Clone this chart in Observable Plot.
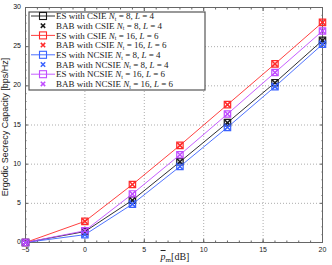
<!DOCTYPE html>
<html><head><meta charset="utf-8">
<script src="https://cdn.jsdelivr.net/npm/d3@7"></script>
<script src="https://cdn.jsdelivr.net/npm/@observablehq/plot@0.6"></script>
<style>body{margin:0;background:#fff}#c{position:relative;width:332px;height:265px}
.yl{position:absolute;width:16px;text-align:right;font:7px "Liberation Sans",Arial,sans-serif;color:#111;line-height:8px}</style>
</head><body><div id="c"></div>
<script>
const snr = [-5, 0, 4, 8, 12, 16, 20];
const esCsie8 = [0, 1.4, 5.4, 10.3, 15.3, 20.4, 25.8];
const babCsie8 = [0, 1.4, 5.4, 10.3, 15.3, 20.4, 25.8];
const esCsie16 = [0, 2.7, 7.4, 12.4, 17.6, 22.8, 28.1];
const babCsie16 = [0, 2.7, 7.4, 12.4, 17.6, 22.8, 28.1];
const esNcsie8 = [0, 1.0, 4.9, 9.7, 14.7, 19.9, 25.3];
const babNcsie8 = [0, 1.0, 4.9, 9.7, 14.7, 19.9, 25.3];
const esNcsie16 = [0, 1.5, 6.2, 11.2, 16.4, 21.7, 27.0];
const babNcsie16 = [0, 1.5, 6.2, 11.2, 16.4, 21.7, 27.0];
const xTicks = [-5, 0, 5, 10, 15, 20];
const yTicks = [0, 5, 10, 15, 20, 25, 30];

const series = [
  {name: "ES with CSIE", kind: "ES", sub: "t", n: 8, l: 4, color: "#1a1a1a", vals: esCsie8},
  {name: "BAB with CSIE", kind: "BAB", sub: "t", n: 8, l: 4, color: "#1a1a1a", vals: babCsie8},
  {name: "ES with CSIE", kind: "ES", sub: "t", n: 16, l: 6, color: "#ff2a2a", vals: esCsie16},
  {name: "BAB with CSIE", kind: "BAB", sub: "t", n: 16, l: 6, color: "#ff2a2a", vals: babCsie16},
  {name: "ES with NCSIE", kind: "ES", sub: "t", n: 8, l: 4, color: "#3a62ff", vals: esNcsie8},
  {name: "BAB with NCSIE", kind: "BAB", sub: "t", n: 8, l: 4, color: "#3a62ff", vals: babNcsie8},
  {name: "ES with NCSIE", kind: "ES", sub: "t", n: 16, l: 6, color: "#c04cff", vals: esNcsie16},
  {name: "BAB with NCSIE", kind: "BAB", sub: "t", n: 16, l: 6, color: "#c04cff", vals: babNcsie16}
];
const rows = [];
series.forEach((s, i) => s.vals.forEach((v, j) => rows.push({id: i, kind: s.kind, color: s.color, x: snr[j], y: v})));
const esRows = rows.filter(d => d.kind === "ES");
const babRows = rows.filter(d => d.kind === "BAB");
const minorX = d3.range(-5, 20.01, 1);
const minorY = d3.range(0, 30.01, 1);
const axisColor = "#666";

const plot = Plot.plot({
  width: 332, height: 265,
  marginLeft: 25, marginRight: 10, marginTop: 7, marginBottom: 23,
  style: {fontFamily: "Liberation Sans, Arial, sans-serif", fontSize: "7px", color: "#222", background: "#fff"},
  x: {domain: [-5, 20]},
  y: {domain: [0, 30]},
  marks: [
    Plot.gridX(xTicks, {stroke: "#999", strokeOpacity: 0.8, strokeDasharray: "1,2"}),
    Plot.gridY(yTicks, {stroke: "#999", strokeOpacity: 0.8, strokeDasharray: "1,2"}),
    Plot.axisX(minorX, {anchor: "bottom", tickSize: -1.5, text: null, stroke: axisColor, label: null}),
    Plot.axisX(minorX, {anchor: "top", tickSize: -1.5, text: null, stroke: axisColor, label: null}),
    Plot.axisY(minorY, {anchor: "left", tickSize: -1.5, text: null, stroke: axisColor, label: null}),
    Plot.axisY(minorY, {anchor: "right", tickSize: -1.5, text: null, stroke: axisColor, label: null}),
    Plot.axisX(xTicks, {anchor: "bottom", tickSize: -3, text: null, stroke: axisColor, label: null}),
    Plot.axisX(xTicks, {anchor: "top", tickSize: -3, text: null, stroke: axisColor, label: null}),
    Plot.axisY(yTicks, {anchor: "left", tickSize: -3, text: null, stroke: axisColor, label: null}),
    Plot.axisY(yTicks, {anchor: "right", tickSize: -3, text: null, stroke: axisColor, label: null}),
    Plot.axisX(xTicks, {anchor: "bottom", tickSize: 0, tickPadding: 5, label: null, fill: "#222"}),
    Plot.frame({stroke: axisColor, strokeWidth: 1}),
    Plot.line(esRows, {x: "x", y: "y", z: "id", stroke: "color", strokeWidth: 0.9}),
    Plot.dot(esRows, {x: "x", y: "y", symbol: "square", r: 3.6, stroke: "color", strokeWidth: 1.2, fill: "none"}),
    Plot.dot(babRows, {x: "x", y: "y", symbol: "times", r: 2.6, stroke: "color", strokeWidth: 1.5})
  ]
});
const host = document.getElementById("c");
host.appendChild(plot);

// y tick labels placed with Plot's own y scale (HTML overlay)
const yScale = plot.scale("y");
yTicks.forEach(v => {
  const d = document.createElement("div");
  d.className = "yl";
  d.textContent = String(v);
  d.style.left = "5px";
  d.style.top = (yScale.apply(v) - 4) + "px";
  host.appendChild(d);
});

const svg = d3.select(plot);
// y axis title
svg.append("text")
  .attr("transform", "translate(8,127) rotate(-90)")
  .attr("text-anchor", "middle")
  .style("font-family", "Liberation Sans, Arial, sans-serif")
  .style("font-size", "9px").attr("fill", "#222")
  .text("Ergodic Secrecy Capacity [bps/Hz]");
// x axis title
const xt = svg.append("text")
  .attr("x", 175).attr("y", 260)
  .attr("text-anchor", "middle")
  .style("font-family", "Liberation Serif, Times New Roman, serif")
  .style("font-size", "10px").attr("fill", "#222");
xt.append("tspan").attr("font-style", "italic").attr("text-decoration", "overline").text("p");
xt.append("tspan").attr("font-size", "7px").attr("dy", 2).text("m");
xt.append("tspan").attr("dy", -2).text("[dB]");

// legend
const lg = svg.append("g").attr("transform", "translate(29,12)");
lg.append("rect").attr("width", 176).attr("height", 78).attr("fill", "#fff").attr("stroke", "#555").attr("stroke-width", 1.2);
series.forEach((s, i) => {
  const y = 4 + i * 9.7;
  const g = lg.append("g").attr("transform", `translate(0,${y})`);
  if (s.kind === "ES") {
    g.append("line").attr("x1", 2).attr("x2", 26).attr("y1", 0).attr("y2", 0).attr("stroke", s.color).attr("stroke-width", 0.9);
    g.append("rect").attr("x", 10.5).attr("y", -3.5).attr("width", 7).attr("height", 7).attr("fill", "none").attr("stroke", s.color).attr("stroke-width", 1.1);
  } else {
    g.append("path").attr("d", "M11.8,-2.2L16.2,2.2M11.8,2.2L16.2,-2.2").attr("stroke", s.color).attr("stroke-width", 1.5);
  }
  const t = g.append("text").attr("x", 27).attr("y", 3.2).attr("text-anchor", "start")
    .style("font-family", "Liberation Serif, Times New Roman, serif")
    .style("font-size", "9px").attr("fill", "#222");
  t.append("tspan").text(s.name + " ");
  t.append("tspan").attr("font-style", "italic").text("N");
  t.append("tspan").attr("font-size", "6px").attr("dy", 1.5).text(s.sub);
  t.append("tspan").attr("dy", -1.5).text(" = " + s.n + ", ");
  t.append("tspan").attr("font-style", "italic").text("L");
  t.append("tspan").text(" = " + s.l);
});
</script></body></html>
